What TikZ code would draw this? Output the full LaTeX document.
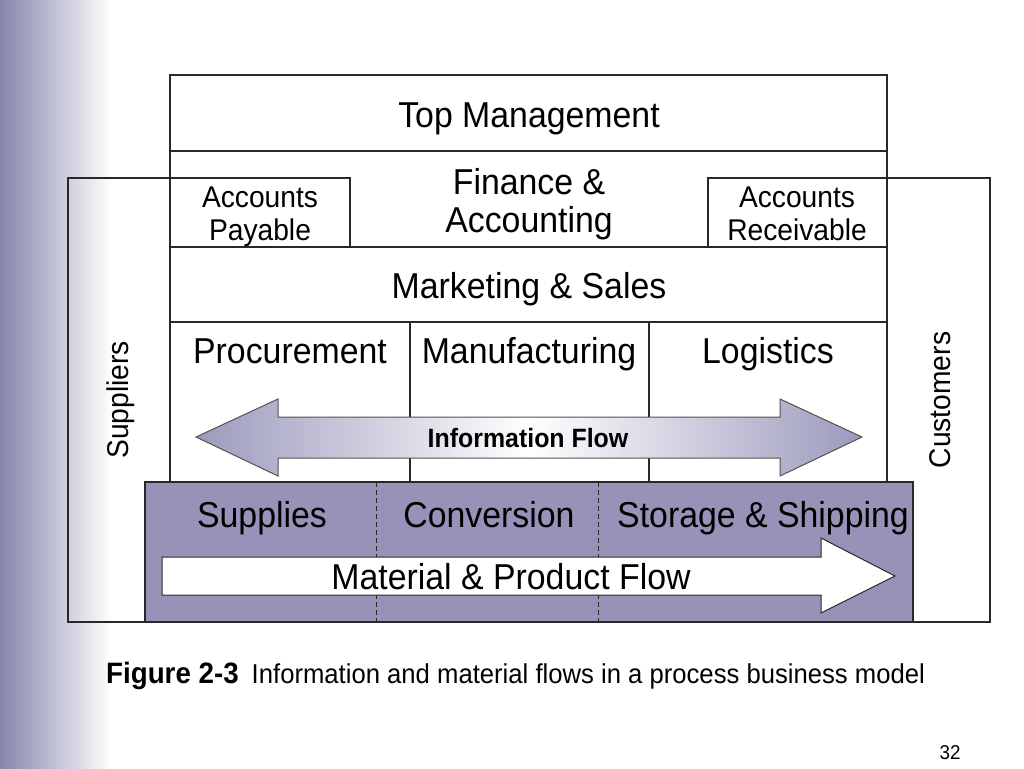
\documentclass[tikz,border=0pt]{standalone}
\usepackage{fontspec}
\setmainfont{Liberation Sans}[FakeStretch=0.94]
\definecolor{boxpurple}{RGB}{150,146,184}
\definecolor{tippurple}{RGB}{156,154,188}
\definecolor{barpurple}{RGB}{134,134,170}
\definecolor{edgegrey}{RGB}{40,40,40}
\tikzset{
  frame/.style={draw=edgegrey, line width=1.1pt},
  big/.style={font=\fontsize{36}{39}\selectfont, inner sep=0pt, anchor=base},
  mid/.style={font=\fontsize{30}{34}\selectfont, inner sep=0pt, anchor=base},
  divider/.style={draw=edgegrey, line width=0.9pt, dash pattern=on 5pt off 3pt},
}
\begin{document}
\begin{tikzpicture}[x=1pt,y=-1pt]
\useasboundingbox (0,0) rectangle (1024,768);
\fill[white] (0,0) rectangle (1024,768);
% left gradient bar
\shade[left color=barpurple, right color=white] (0,0) rectangle (112,768);
% side boxes
\draw[frame] (68,178) rectangle (170,622);
\draw[frame] (887,178) rectangle (990,622);
\node[font=\fontsize{30}{34}\selectfont, inner sep=0pt, rotate=90] (sup) at (121,400) {Suppliers};
\node[font=\fontsize{30}{34}\selectfont, inner sep=0pt, rotate=90] (cus) at (940,400) {Customers};
% main box
\draw[frame, fill=white] (170,75) rectangle (887,482);
\draw[frame] (170,151) -- (887,151);
\draw[frame] (170,247) -- (887,247);
\draw[frame] (170,322) -- (887,322);
\draw[frame] (410,322) -- (410,482);
\draw[frame] (649,322) -- (649,482);
\draw[frame] (170,178) rectangle (350,247);
\draw[frame] (708,178) rectangle (887,247);
\node[big] (top) at (529,127) {Top Management};
\node[big] (fin1) at (529,194) {Finance \&};
\node[big] (fin2) at (529,232) {Accounting};
\node[mid] (ap1) at (260,207) {Accounts};
\node[mid] (ap2) at (260,240) {Payable};
\node[mid] (ar1) at (797,207) {Accounts};
\node[mid] (ar2) at (797,240) {Receivable};
\node[big] (mkt) at (529,298) {Marketing \& Sales};
\node[big] (proc) at (290,363) {Procurement};
\node[big] (manu) at (529,363) {Manufacturing};
\node[big] (logi) at (768,363) {Logistics};
% information flow arrow
\draw[draw=edgegrey!80, line width=1pt, left color=tippurple, right color=tippurple, middle color=white]
  (196,437) -- (278,399) -- (278,417) -- (780,417) -- (780,399) -- (862,437)
  -- (780,476) -- (780,458) -- (278,458) -- (278,476) -- cycle;
\node[font=\bfseries\fontsize{26.5}{30}\selectfont, inner sep=0pt, anchor=base] (info) at (528,447) {Information Flow};
% lower purple box
\draw[frame, fill=boxpurple] (145,482) rectangle (913,622);
\draw[divider] (376,482) -- (376,622);
\draw[divider] (598,482) -- (598,622);
\node[big] (supp) at (262,527) {Supplies};
\node[big] (conv) at (489,527) {Conversion};
\node[big] (stor) at (763,527) {Storage \& Shipping};
% material flow arrow
\draw[draw=edgegrey, line width=1pt, fill=white]
  (162,557) -- (821,557) -- (821,538) -- (895,576) -- (821,613) -- (821,595) -- (162,595) -- cycle;
\node[big] (mat) at (511,589) {Material \& Product Flow};
% caption
\node[anchor=base west, inner sep=0pt] (cap) at (106,683)
  {{\bfseries\fontsize{29.5}{32}\selectfont Figure 2-3}\hspace{13pt}{\fontsize{27.3}{32}\selectfont Information and material flows in a process business model}};
\node[anchor=base, inner sep=0pt, font=\fontsize{20}{24}\selectfont] (pg) at (950,759) {32};
\end{tikzpicture}
\end{document}
